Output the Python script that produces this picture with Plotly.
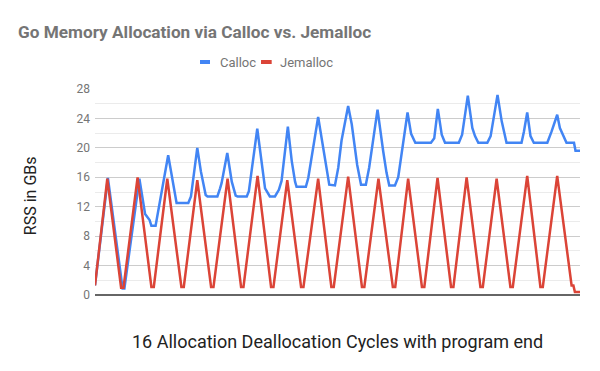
import plotly.graph_objects as go

# sample index (time) and RSS in GB
calloc_t = [0, 4.3, 9.2, 9.8, 14.8, 16.7, 18.2, 18.8, 20.2, 22.0, 24.4, 27.2, 31.1, 32.0,
            34.1, 35.3, 36.9, 37.5, 40.8, 41.7, 42.2, 44.1, 45.6, 46.9, 47.5, 50.6, 51.3,
            54.1, 55.6, 56.7, 58.3, 60.0, 61.3, 62.2, 64.3, 65.6, 66.7, 67.2, 70.3, 71.1,
            74.4, 75.6, 77.2, 78.1, 80.0, 81.1, 82.2, 84.4, 85.6, 87.4, 88.7, 90.3, 91.4,
            94.2, 96.1, 97.2, 98.1, 100.0, 101.1, 104.2, 105.4, 106.8, 112.0, 113.1,
            114.3, 115.6, 116.7, 121.3, 122.4, 124.3, 125.8, 126.7, 127.8, 130.8, 131.9,
            133.0, 134.2, 135.6, 137.2, 142.2, 143.0, 144.1, 145.2, 146.3, 150.8, 152.2,
            154.1, 155.0, 157.2, 159.7, 160.2, 161.7]
calloc_gb = [1.3, 15.9, 0.9, 0.9, 15.8, 11.0, 10.2, 9.4, 9.4, 13.5, 19.0, 12.5, 12.5, 13.4,
             20.0, 16.8, 13.6, 13.4, 13.4, 14.5, 15.2, 19.3, 15.4, 13.5, 13.4, 13.4, 14.1,
             22.6, 18.2, 14.5, 13.4, 13.4, 14.3, 15.5, 22.9, 18.2, 15.4, 14.7, 14.7, 15.9,
             24.2, 21.0, 16.8, 15.0, 14.9, 17.3, 21.0, 25.7, 23.2, 17.7, 15.0, 15.0, 17.3,
             25.2, 19.5, 16.6, 14.9, 14.9, 16.0, 24.8, 21.9, 20.7, 20.7, 21.3,
             25.3, 21.8, 20.7, 20.7, 21.8, 27.1, 22.7, 21.6, 20.7, 20.7, 21.6,
             24.1, 27.2, 23.6, 20.7, 20.7, 22.2, 24.8, 21.6, 20.7, 20.7, 22.2,
             24.5, 22.7, 20.7, 20.7, 19.6, 19.6]

jemalloc_t = [0, 4.1, 8.7, 9.5, 14.2, 18.8, 19.6, 24.1, 28.8, 29.6, 34.1, 38.7, 39.5,
              44.2, 48.7, 49.5, 54.2, 58.7, 59.5, 64.1, 68.7, 69.5, 74.4, 78.8, 79.6,
              84.4, 89.0, 89.8, 94.5, 99.3, 100.1, 104.4, 109.0, 109.8, 114.2, 118.7,
              119.5, 123.9, 128.5, 129.3, 133.9, 138.5, 139.3, 144.1, 148.5, 149.3,
              154.1, 158.9, 159.5, 160.0, 161.7]
jemalloc_gb = [1.3, 15.8, 1.0, 1.0, 16.0, 1.1, 1.1, 15.8, 1.1, 1.1, 15.6, 1.1, 1.1,
               15.8, 1.1, 1.1, 16.2, 1.1, 1.1, 15.6, 1.1, 1.1, 15.8, 1.1, 1.1,
               16.1, 1.1, 1.1, 15.8, 1.1, 1.1, 15.8, 1.1, 1.1, 15.9, 1.1,
               1.1, 16.0, 1.1, 1.1, 15.8, 1.1, 1.1, 16.2, 1.1, 1.1,
               16.2, 1.3, 1.3, 0.4, 0.4]

y_ticks = [0, 4, 8, 12, 16, 20, 24, 28]

BLUE = "#4285F4"
RED = "#DB4437"
FONT = "Roboto"

fig = go.Figure()
fig.add_trace(go.Scatter(x=calloc_t, y=calloc_gb, mode="lines", name="Calloc",
                         line=dict(color=BLUE, width=2.5), showlegend=False))
fig.add_trace(go.Scatter(x=jemalloc_t, y=jemalloc_gb, mode="lines", name="Jemalloc",
                         line=dict(color=RED, width=2.5), showlegend=False))

# page has an 8px body margin, so the figure is 592x363
fig.update_layout(
    width=592, height=363,
    margin=dict(l=87, r=20, t=81, b=76),
    paper_bgcolor="white", plot_bgcolor="white",
    font=dict(family=FONT, color="#757575", size=12),
    title=dict(text="<b>Go Memory Allocation via Calloc vs. Jemalloc</b>",
               x=0.017, xanchor="left", y=0.934, yanchor="middle",
               font=dict(family=FONT, size=17.2, color="#757575")),
    xaxis=dict(range=[0, 161.7], showticklabels=False, showgrid=False,
               zeroline=False, showline=False, fixedrange=True),
    yaxis=dict(range=[0, 28], tickvals=y_ticks, ticktext=[str(v) for v in y_ticks],
               showgrid=True, gridcolor="#cccccc", gridwidth=1,
               minor=dict(dtick=2, showgrid=True, gridcolor="#ebebeb", gridwidth=1),
               zeroline=False, showline=False, ticks="", ticklabelstandoff=4,
               tickfont=dict(family=FONT, size=12, color="#757575")),
    showlegend=False,
    hovermode=False,
)

# baseline
fig.add_shape(type="line", xref="paper", yref="paper", x0=0, x1=1, y0=0, y1=0,
              line=dict(color="#333333", width=1.5))

# custom legend
for x0, x1, col, label, tx in [(0.2165, 0.2371, BLUE, "Calloc", 0.2536),
                               (0.3423, 0.3643, RED, "Jemalloc", 0.3780)]:
    fig.add_shape(type="line", xref="paper", yref="paper", x0=x0, x1=x1,
                  y0=1.131, y1=1.131, line=dict(color=col, width=4))
    fig.add_annotation(text=label, xref="paper", yref="paper", x=tx, y=1.131,
                       xanchor="left", yanchor="middle", showarrow=False,
                       font=dict(family=FONT, size=13, color="#757575"))

fig.add_annotation(text="RSS in GBs", xref="paper", yref="paper", x=-0.134, y=0.48,
                   textangle=-90, showarrow=False, xanchor="center", yanchor="middle",
                   font=dict(family=FONT, size=16, color="#222222"))
fig.add_annotation(text="16 Allocation Deallocation Cycles with program end",
                   xref="paper", yref="paper", x=0.5, y=-0.2267, showarrow=False,
                   xanchor="center", yanchor="middle",
                   font=dict(family=FONT, size=18, color="#222222"))

fig.write_html("out.html")
